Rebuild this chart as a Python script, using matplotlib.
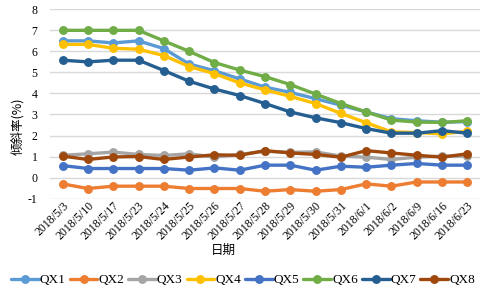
import matplotlib
matplotlib.use("Agg")
import matplotlib.pyplot as plt

dates = ["2018/5/3", "2018/5/10", "2018/5/17", "2018/5/23", "2018/5/24", "2018/5/25",
         "2018/5/26", "2018/5/27", "2018/5/28", "2018/5/29", "2018/5/30", "2018/5/31",
         "2018/6/1", "2018/6/2", "2018/6/9", "2018/6/16", "2018/6/23"]

qx1 = [6.5, 6.5, 6.4, 6.5, 6.13, 5.4, 5.08, 4.69, 4.3, 4.05, 3.75, 3.44, 3.12, 2.8, 2.7, 2.63, 2.66]
qx2 = [-0.3, -0.52, -0.41, -0.41, -0.41, -0.52, -0.52, -0.52, -0.65, -0.57, -0.65, -0.57, -0.3, -0.41, -0.21, -0.21, -0.21]
qx3 = [1.06, 1.13, 1.21, 1.1, 1.05, 1.13, 0.97, 1.1, 1.25, 1.2, 1.22, 1.02, 0.97, 0.86, 0.97, 1.02, 1.02]
qx4 = [6.33, 6.33, 6.15, 6.1, 5.8, 5.28, 4.94, 4.5, 4.17, 3.86, 3.52, 3.05, 2.61, 2.17, 2.14, 2.08, 2.2]
qx5 = [0.57, 0.43, 0.43, 0.43, 0.43, 0.35, 0.46, 0.35, 0.59, 0.59, 0.35, 0.54, 0.49, 0.59, 0.67, 0.59, 0.59]
qx6 = [7.0, 7.0, 7.0, 7.0, 6.5, 6.0, 5.47, 5.11, 4.8, 4.42, 3.97, 3.52, 3.12, 2.73, 2.64, 2.62, 2.7]
qx7 = [5.58, 5.5, 5.58, 5.58, 5.09, 4.58, 4.21, 3.9, 3.52, 3.12, 2.84, 2.61, 2.33, 2.11, 2.11, 2.23, 2.11]
qx8 = [1.02, 0.86, 0.98, 1.0, 0.86, 0.98, 1.08, 1.06, 1.28, 1.17, 1.1, 0.97, 1.28, 1.17, 1.06, 0.97, 1.13]

names = ["QX1", "QX2", "QX3", "QX4", "QX5", "QX6", "QX7", "QX8"]
series = [qx1, qx2, qx3, qx4, qx5, qx6, qx7, qx8]
colors = ["#5B9BD5", "#ED7D31", "#A5A5A5", "#FFC000", "#4472C4", "#70AD47", "#255E91", "#9E480E"]

serif = ["Liberation Serif", "DejaVu Serif"]
cjk = ["Noto Sans CJK SC", "DejaVu Sans"]

fig = plt.figure(figsize=(4.87, 2.92), dpi=100)
ax = fig.add_axes([50/487, 1 - 198.6/292, 430/487, (198.6 - 9.3)/292])

x = list(range(len(dates)))
for name, vals, c in zip(names, series, colors):
    ax.plot(x, vals, color=c, lw=2.4, marker="o", ms=5.4, label=name, solid_capstyle="round")

ax.set_xlim(-0.5, len(dates) - 0.5)
ax.set_ylim(-1, 8)
ax.set_yticks(range(-1, 9))
ax.set_yticklabels([str(v) for v in range(-1, 9)], fontfamily=serif, fontsize=8.5)
ax.set_xticks(x)
ax.set_xticklabels(dates, rotation=45, ha="right", rotation_mode="anchor",
                   fontfamily=serif, fontsize=8.5)
ax.tick_params(axis="both", length=0)
ax.tick_params(axis="y", pad=9)
ax.tick_params(axis="x", pad=1)
ax.grid(axis="y", color="#d9d9d9", lw=1)
ax.set_axisbelow(True)
for s in ax.spines.values():
    s.set_visible(False)

fig.text(18/487, 1 - 126/292, "倾斜率(%)", rotation=90, ha="center", va="center",
         fontfamily=cjk, fontsize=9)
fig.text(223/487, 1 - 250/292, "日期", ha="center", va="center", fontfamily=cjk, fontsize=9)

leg = fig.legend(loc="center", bbox_to_anchor=(243/487, 1 - 280/292), ncol=8, frameon=False,
                 prop={"family": serif, "size": 9.5}, handlelength=2.1, handletextpad=0.08,
                 columnspacing=0.3, borderaxespad=0)

fig.savefig("out.png", dpi=100)
